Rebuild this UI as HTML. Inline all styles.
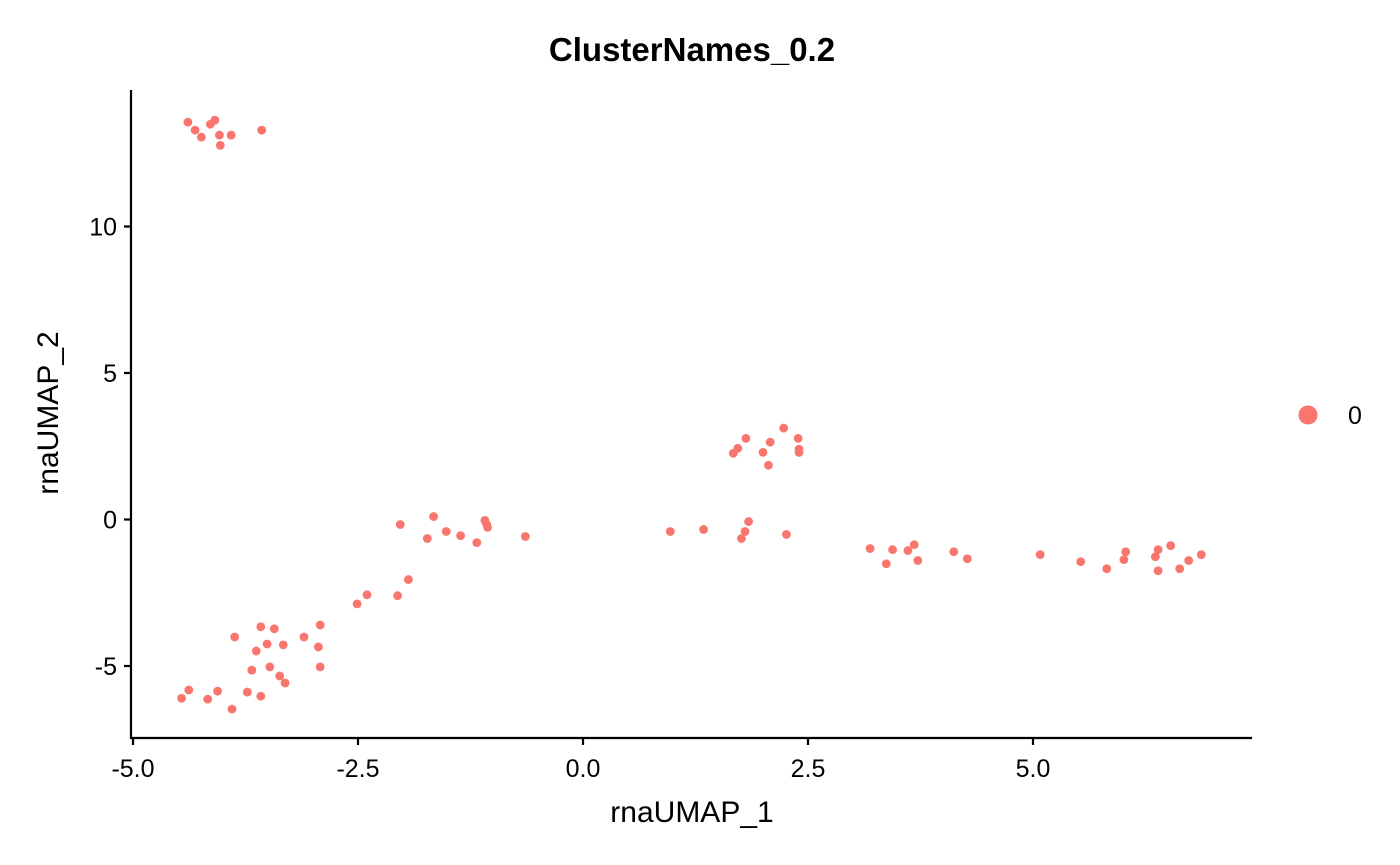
<!DOCTYPE html>
<html><head><meta charset="utf-8"><style>
body{margin:0;background:#fff;}
svg{display:block;font-family:"Liberation Sans",sans-serif;}
</style></head><body>
<svg id="chart" width="1400" height="865">
<text x="692" y="61" text-anchor="middle" font-size="33" font-weight="bold">ClusterNames_0.2</text>
<g id="points"></g>
<g id="axes"></g>
<text x="692" y="822" text-anchor="middle" font-size="30">rnaUMAP_1</text>
<text transform="translate(58,413) rotate(-90)" text-anchor="middle" font-size="30">rnaUMAP_2</text>
<circle cx="1308" cy="415" r="9.5" fill="#F8766D"/>
<text x="1348" y="424" font-size="25">0</text>
</svg>
<script>
const xVals=[-4.39,-4.31,-4.24,-4.14,-4.09,-4.04,-4.03,-3.91,-3.57,
-4.46,-4.38,-4.17,-4.06,-3.90,-3.87,-3.73,-3.68,-3.63,-3.58,-3.58,-3.51,-3.48,-3.43,-3.37,-3.33,-3.31,-3.10,-2.94,-2.92,-2.92,
-2.51,-2.40,-2.06,-1.94,-2.03,-1.73,-1.66,-1.52,-1.36,-1.18,-1.09,-1.07,-1.06,-0.64,
0.97,1.34,1.76,1.80,1.84,2.26,
1.67,1.72,1.81,2.00,2.06,2.08,2.23,2.39,2.40,2.40,
3.19,3.37,3.44,3.61,3.68,3.72,4.12,4.27,5.08,5.53,5.82,6.01,6.03,6.36,6.39,6.39,6.53,6.63,6.73,6.87];
const yVals=[13.56,13.29,13.05,13.49,13.63,13.12,12.77,13.12,13.29,
-6.10,-5.82,-6.13,-5.86,-6.47,-4.01,-5.89,-5.14,-4.49,-3.66,-6.03,-4.25,-5.03,-3.73,-5.34,-4.28,-5.58,-4.01,-4.35,-3.60,-5.03,
-2.88,-2.57,-2.60,-2.05,-0.17,-0.65,0.10,-0.41,-0.55,-0.79,-0.03,-0.17,-0.27,-0.58,
-0.41,-0.34,-0.65,-0.41,-0.07,-0.51,
2.26,2.43,2.77,2.29,1.85,2.64,3.12,2.77,2.40,2.29,
-0.99,-1.51,-1.03,-1.06,-0.86,-1.40,-1.10,-1.34,-1.20,-1.44,-1.68,-1.37,-1.10,-1.27,-1.03,-1.75,-0.89,-1.68,-1.40,-1.20];
const xTicks=[-5.0,-2.5,0.0,2.5,5.0];
const xTickLabels=["-5.0","-2.5","0.0","2.5","5.0"];
const yTicks=[-5,0,5,10];
const yTickLabels=["-5","0","5","10"];
const NS="http://www.w3.org/2000/svg";
function sx(v){return 583+90*v;}
function sy(v){return 519.5-29.3*v;}
const pts=document.getElementById('points');
for(let i=0;i<xVals.length;i++){
  const c=document.createElementNS(NS,'circle');
  c.setAttribute('cx',sx(xVals[i]));c.setAttribute('cy',sy(yVals[i]));
  c.setAttribute('r',4.4);c.setAttribute('fill','#F8766D');
  
  
  pts.appendChild(c);
}
const ax=document.getElementById('axes');
function line(x1,y1,x2,y2,name){
  const l=document.createElementNS(NS,'line');
  l.setAttribute('x1',x1);l.setAttribute('y1',y1);l.setAttribute('x2',x2);l.setAttribute('y2',y2);
  l.setAttribute('stroke','#000');l.setAttribute('stroke-width',2.2);
  
  
  ax.appendChild(l);
}
function text(x,y,s,anchor,name){
  const t=document.createElementNS(NS,'text');
  t.setAttribute('x',x);t.setAttribute('y',y);t.setAttribute('text-anchor',anchor);
  t.setAttribute('font-size',25);t.setAttribute('fill','#000');t.textContent=s;
  
  
  ax.appendChild(t);
}
line(131,90,131,739,'y-axis-line');
line(130,738,1252,738,'x-axis-line');
xTicks.forEach((v,i)=>{line(sx(v),738,sx(v),745,'x-tick');text(sx(v),777,xTickLabels[i],'middle','x-tick-label');});
yTicks.forEach((v,i)=>{line(124,sy(v),131,sy(v),'y-tick');text(117,sy(v)+9,yTickLabels[i],'end','y-tick-label');});
</script>
</body></html>
